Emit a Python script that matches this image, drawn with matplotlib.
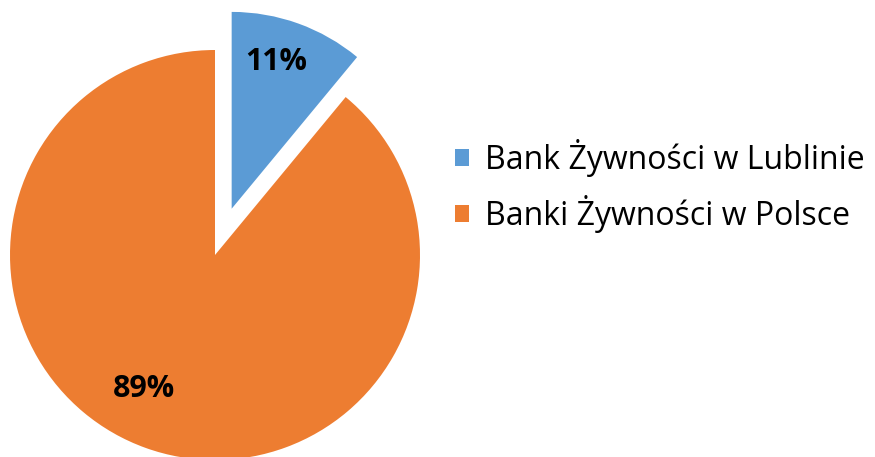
import numpy as np
import matplotlib.pyplot as plt

plt.rcParams['font.family'] = ['Open Sans', 'DejaVu Sans']

labels = ['Bank Żywności w Lublinie', 'Banki Żywności w Polsce']
values = [11, 89]
colors = ['#5B9BD5', '#ED7D31']
explode = [0.24, 0]

W, H = 875, 457
cx, cy, r = 215, 255, 205  # pie centre and radius in pixels

fig = plt.figure(figsize=(W / 100, H / 100), dpi=100)
ax = fig.add_axes([0, 0, 1, 1])

wedges, texts, autotexts = ax.pie(values, colors=colors, explode=explode,
                                  startangle=90, counterclock=False,
                                  autopct='%1.0f%%', pctdistance=0.75,
                                  wedgeprops=dict(linewidth=0),
                                  textprops=dict(fontsize=22, fontweight='bold', color='black'))
# excel draws the pulled-out slice a bit smaller
wedges[0].set_radius(0.96)

# excel's "best fit" puts the big label further left than mid-angle
ang = np.deg2rad(90 - 208)
autotexts[1].set_position((0.74 * np.cos(ang), 0.74 * np.sin(ang)))
ang = np.deg2rad(90 - 17)
c0 = wedges[0].center
autotexts[0].set_position((c0[0] + 0.75 * np.cos(ang), c0[1] + 0.75 * np.sin(ang)))

ax.set_xlim(-cx / r, (W - cx) / r)
ax.set_ylim(-(H - cy) / r, cy / r)
ax.set_aspect('equal')
ax.axis('off')

leg = fig.legend(wedges, labels, loc='center left',
                 bbox_to_anchor=(455 / W, 1 - 186 / H),
                 frameon=False, fontsize=23, handlelength=0.45, handleheight=0.45,
                 handletextpad=0.5, labelspacing=0.55, borderpad=0, borderaxespad=0)

plt.savefig('out.png', dpi=100)
